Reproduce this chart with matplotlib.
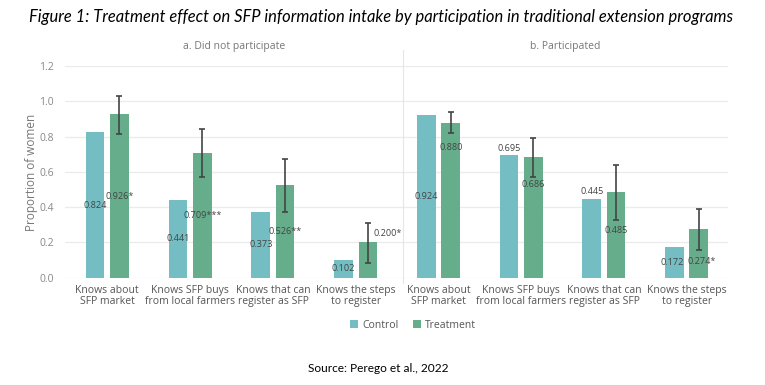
import matplotlib.pyplot as plt
import numpy as np

categories = ["Knows about\nSFP market", "Knows SFP buys\nfrom local farmers",
              "Knows that can\nregister as SFP", "Knows the steps\nto register"]
panels = ["a. Did not participate", "b. Participated"]

control_a = [0.824, 0.441, 0.373, 0.102]
treat_a = [0.926, 0.709, 0.526, 0.200]
stars_a = ["*", "***", "**", "*"]
err_lo_a = [0.813, 0.573, 0.371, 0.085]
err_hi_a = [1.030, 0.841, 0.675, 0.310]

control_b = [0.924, 0.695, 0.445, 0.172]
treat_b = [0.880, 0.686, 0.485, 0.274]
stars_b = ["", "", "", "*"]
err_lo_b = [0.820, 0.573, 0.326, 0.157]
err_hi_b = [0.939, 0.794, 0.641, 0.389]

# where the value labels sit (y in data units, x shift in group units)
lab_ctrl_a = [v / 2 for v in control_a]
lab_trt_a = [v / 2 for v in treat_a[:3]] + [0.248]
lab_trt_dx_a = [0, 0, 0, 0.24]
lab_ctrl_b = [0.462, 0.735, 0.490, 0.086]
lab_trt_b = [0.741, 0.531, 0.270, 0.094]
lab_ctrl_dx_b = [0, 0, 0, -0.03]
lab_trt_dx_b = [0, 0, 0, 0.04]

C_CTRL = "#74bdc3"
C_TRT = "#66ad8b"
GRID = "#ebebeb"
TXT = "#555555"

plt.rcParams["font.family"] = ["Open Sans", "DejaVu Sans"]

fig = plt.figure(figsize=(7.65, 3.85), dpi=100)
bottom, height = 0.2787, 0.5496
ax1 = fig.add_axes([0.085, bottom, 0.4418, height])
ax2 = fig.add_axes([0.5268, bottom, 0.4248, height], sharey=ax1)

w, off = 0.225, 0.147
x = np.arange(len(categories))

setup = [
    (ax1, panels[0], control_a, treat_a, stars_a, err_lo_a, err_hi_a,
     lab_ctrl_a, [0, 0, 0, 0], lab_trt_a, lab_trt_dx_a, (-0.51, 3.57)),
    (ax2, panels[1], control_b, treat_b, stars_b, err_lo_b, err_hi_b,
     lab_ctrl_b, lab_ctrl_dx_b, lab_trt_b, lab_trt_dx_b, (-0.43, 3.50)),
]

for ax, title, ctrl, trt, st, lo, hi, lc, lcdx, lt, ldx, xl in setup:
    ax.bar(x - off, ctrl, w, color=C_CTRL, label="Control", zorder=2)
    ax.bar(x + off, trt, w, color=C_TRT, label="Treatment", zorder=2)
    yerr = [np.array(trt) - np.array(lo), np.array(hi) - np.array(trt)]
    ax.errorbar(x + off, trt, yerr=yerr, fmt="none", ecolor="#444444",
                elinewidth=1.2, capsize=2.4, capthick=1.2, zorder=3)
    for i in range(len(x)):
        ax.text(x[i] - off + lcdx[i], lc[i], f"{ctrl[i]:.3f}", ha="center",
                va="center", fontsize=6.6, color="#444444", zorder=4)
        ax.text(x[i] + off + ldx[i], lt[i], f"{trt[i]:.3f}{st[i]}", ha="center",
                va="center", fontsize=6.6, color="#444444", zorder=4, clip_on=False)
    ax.set_xlim(*xl)
    ax.set_ylim(0, 1.2)
    ax.set_yticks(np.arange(0, 1.21, 0.2))
    ax.yaxis.grid(True, color=GRID, linewidth=0.9, zorder=0)
    ax.set_axisbelow(True)
    ax.set_xticks(x)
    ax.set_xticklabels(categories, fontsize=7.5, color=TXT, linespacing=1.05)
    ax.tick_params(axis="x", length=0, pad=5)
    ax.tick_params(axis="y", length=0, pad=8, labelsize=7.5, labelcolor="#888888")
    for s in ["top", "right", "bottom", "left"]:
        ax.spines[s].set_visible(False)
    ax.set_title(title, fontsize=7.5, color="#777777", pad=12)

ax2.spines["left"].set_visible(True)
ax2.spines["left"].set_color("#e6e6e6")
ax2.spines["left"].set_bounds(-0.03, 1.29)
ax2.tick_params(axis="y", labelleft=False)
ax1.set_ylabel("Proportion of women", fontsize=8.5, color="#777777", labelpad=1)

handles, labels = ax1.get_legend_handles_labels()
fig.legend(handles, labels, loc="center", bbox_to_anchor=(413 / 765, 1 - 325 / 385),
           ncol=2, frameon=False, fontsize=7.5, handlelength=0.8, handleheight=0.8,
           handletextpad=0.4, columnspacing=1.4, labelcolor=TXT)

fig.text(381 / 765, 1 - 17 / 385, "Figure 1: Treatment effect on SFP information intake by "
         "participation in traditional extension programs", ha="center", va="center",
         fontsize=11.9, style="italic", family="Lato", color="black")
fig.text(378 / 765, 1 - 368 / 385, "Source: Perego et al., 2022", ha="center",
         va="center", fontsize=8.6, family="Lato", color="black")

fig.savefig("out.png", dpi=100)
